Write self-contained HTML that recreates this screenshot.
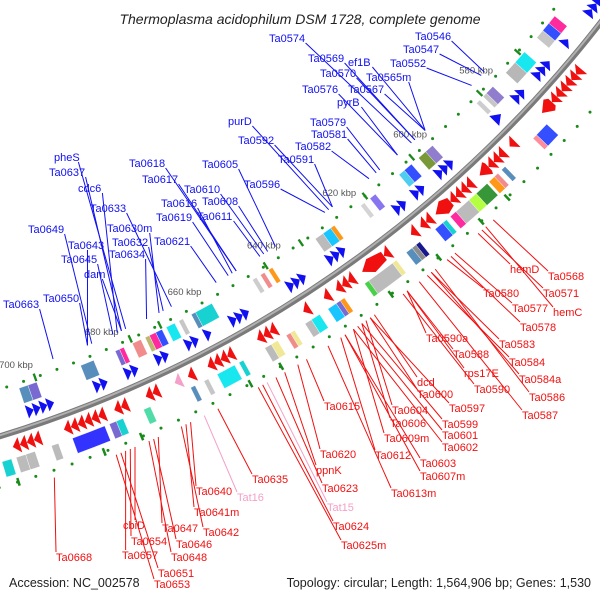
<!DOCTYPE html>
<html><head><meta charset="utf-8"><style>
html,body{margin:0;padding:0;background:#fff;}
svg{display:block;font-family:"Liberation Sans",sans-serif;}
</style></head><body>
<svg id="map" width="600" height="600" viewBox="0 0 600 600" xmlns="http://www.w3.org/2000/svg">
<rect width="600" height="600" fill="#fff"/>
<text x="300" y="24" text-anchor="middle" font-size="14" font-style="italic" fill="#222">Thermoplasma acidophilum DSM 1728, complete genome</text>
<text x="9" y="587" font-size="12.5" fill="#222">Accession: NC_002578</text>
<text x="591" y="587" text-anchor="end" font-size="12.5" fill="#222">Topology: circular; Length: 1,564,906 bp; Genes: 1,530</text>
<g id="tracks"></g>
<g id="labels"></g>
</svg>
<script>
const scaleTicks = [580, 600, 620, 640, 660, 680, 700];
const blueGenes = [[551,552.5],[552.5,554],[554,555.5],[562,563.5],[568,569.5],[569.5,571],[571,572.5],[576,577.5],[577.5,579],[583,585],[597,598.5],[598.5,600],[600,601.5],[605,606.5],[606.5,608],[610,611.5],[611.5,613],[626,627.5],[627.5,629],[629,630.5],[636,637.5],[637.5,639],[639,640.5],[650,651.5],[651.5,653],[653,654.5],[659,660.5],[662,663.5],[663.5,665],[669,670.5],[670.5,672],[676,677.5],[677.5,679],[683,684.5],[684.5,686],[695,696.5],[696.5,698],[698,699.5],[699.5,701]];
const redGenes = [[565,566.5],[566.5,568],[568,569.5],[569.5,571],[571,572.5],[572.5,574],[574,577],[585,586.5],[588,589.5],[589.5,591],[591,592.5],[592.5,595],[597,598.5],[598.5,600],[600,601.5],[601.5,603],[603,607],[608,609.5],[609.5,611],[612,613.5],[619,620.5],[620.5,626],[628,629.5],[629.5,631],[631,632.5],[634,635.5],[639,640.5],[647,648.5],[648.5,650],[650,651.5],[657,658.5],[658.5,660],[660,661.5],[661.5,663],[666,667.5],[674,675.5],[675.5,677],[681,682.5],[682.5,684],[686,687.5],[687.5,689],[689,690.5],[690.5,692],[692,693.5],[693.5,695],[700,701.5],[701.5,703],[703,704.5],[704.5,706]];
const pinkGenes = [[669,670.5]];
const innerBoxes = [[560,562,'#ff1493'],[562,564,'#1e3cff'],[564,566,'#c0c0c0'],[570,573,'#00e5ee'],[573,576,'#b0b0b0'],[580,582,'#8470c8'],[582,583,'#c0c0c0'],[584,585,'#c8c8c8'],[598,600,'#8470c8'],[600,602,'#6b8e23'],[604,606,'#1e3cff'],[606,607.5,'#3cc8f0'],[614,615.5,'#7b68ee'],[617,618,'#d0d0d0'],[625,626,'#ff8c00'],[626,628,'#00bfff'],[628,630,'#b4b4b4'],[641,642,'#ff8c00'],[643,644,'#f08080'],[645,646,'#c8c8c8'],[656,660,'#00cdcd'],[660,661,'#4682b4'],[663,664,'#c0c0c0'],[665,667,'#00e5ee'],[668,669.5,'#1e3cff'],[669.5,671,'#ff1493'],[671,672,'#b8b060'],[673,675,'#f08080'],[677,678,'#ff1493'],[678,679,'#6a5acd'],[684,687,'#4682b4'],[697,699,'#6a5acd'],[699,701,'#4682b4']];
const outerBoxes = [[578,581,'#1e3cff'],[581,582,'#ff8090'],[590,591,'#4682b4'],[592,593,'#f08080'],[593,594.5,'#ff8c00'],[595,598,'#228b22'],[598,600,'#adff2f'],[600,603.5,'#b4b4b4'],[603.5,605,'#ff1493'],[606,607,'#00cdcd'],[607,609,'#1e3cff'],[613,614,'#000080'],[614,615,'#808080'],[615,616.5,'#4682b4'],[619,620,'#f0e68c'],[620,626,'#b4b4b4'],[626,627,'#32cd32'],[632,633,'#ff8c00'],[633,634,'#6a5acd'],[634,636,'#00bfff'],[638,640,'#00e5ee'],[640,641.5,'#b4b4b4'],[644,645,'#f0e68c'],[645,646,'#f08080'],[648,649.5,'#f0e68c'],[649.5,651,'#b4b4b4'],[656,657,'#00cdcd'],[658,662,'#00e5ee'],[664,665,'#c0c0c0'],[667,668,'#4682b4'],[677,678.5,'#3cd9a0'],[683,684.5,'#00cdcd'],[684.5,686,'#6a5acd'],[687,694,'#1e1eff'],[697,698.5,'#b4b4b4'],[702,704,'#b4b4b4'],[704,706,'#b4b4b4'],[707,709,'#00cdcd']];
const dashPositions = [571,594,603,612,633,650,668,681,697,707,583,601,616,624,642,657,675,689];
const blueLabels = ['Ta0546','Ta0547','Ta0552','Ta0569','ef1B','Ta0570','Ta0565m','Ta0576','Ta0567','pyrB','Ta0579','Ta0581','Ta0582','Ta0591','Ta0574','purD','Ta0592','pheS','Ta0637','Ta0618','Ta0605','Ta0617','Ta0596','cdc6','Ta0610','Ta0616','Ta0608','Ta0633','Ta0619','Ta0611','Ta0630m','Ta0649','Ta0621','Ta0632','Ta0643','Ta0634','Ta0645','dam','Ta0650','Ta0663'];
const blueLabelX = [415,403,390,308,348,320,366,302,348,337,310,311,295,278,269,228,238,54,49,129,202,142,244,78,184,161,202,90,156,197,107,28,154,112,68,109,61,84,43,3];
const blueLabelY = [40,53,67,62,66,77,81,93,93,106,126,138,150,163,42,125,144,161,176,167,168,183,188,192,193,207,205,212,221,220,232,233,245,246,249,258,263,278,302,308];
const blueGenePos = [579,580,583,600,597,600,597,605,597,605,610,611,613,623,601,624,623,675,676,648,638,648,625,677,641,649,640,664,650,642,667,683,653,666,684,670,678,676,684,692];
const redLabels = ['Ta0568','hemD','Ta0571','Ta0580','Ta0577','hemC','Ta0578','Ta0590a','Ta0583','Ta0588','Ta0584','rps17E','Ta0584a','dcd','Ta0590','Ta0600','Ta0586','Ta0615','Ta0597','Ta0604','Ta0587','Ta0606','Ta0599','Ta0601','Ta0609m','Ta0602','Ta0612','Ta0603','Ta0607m','Ta0613m','Ta0620','ppnK','Ta0623','Tat15','Ta0624','Ta0625m','Ta0635','Ta0640','Tat16','Ta0641m','Ta0647','Ta0642','cbiD','Ta0654','Ta0646','Ta0657','Ta0648','Ta0668','Ta0651','Ta0653'];
const redLabelX = [548,510,543,483,512,553,520,426,499,453,509,464,519,417,474,417,529,324,449,392,522,390,442,442,384,442,375,420,420,391,320,316,322,327,333,341,252,196,237,194,162,203,123,131,176,122,171,56,158,154];
const redLabelY = [280,273,297,297,312,316,331,342,348,358,366,377,383,386,393,398,401,410,412,414,419,427,428,439,442,451,459,467,480,497,458,474,492,511,530,549,483,495,501,516,532,536,529,545,548,559,561,561,577,588];
const redGenePos = [599,603,602,611,609,601,610,621,615,621,616,621,615,629,622,630,614,645,630,631,618,632,632,633,634,634,637,636,636,640,647,650,652,654,655,656,665,671,668,672,678,673,683,684,679,685,680,700,686,687];

const NS = 'http://www.w3.org/2000/svg';
const CX = -353, CY = -719;
const R_BACK = 1208;
function ang(p){ return (43.6 + (p - 580) * 0.2300) * Math.PI / 180; }
function pt(p, r){ const a = ang(p); return [CX + r * Math.cos(a), CY + r * Math.sin(a)]; }
function mk(tag, attrs, parent){ const e = document.createElementNS(NS, tag); for (const k in attrs) e.setAttribute(k, attrs[k]); parent.appendChild(e); return e; }
const tracks = document.getElementById('tracks');
const labels = document.getElementById('labels');

function sector(s, e, r1, r2){
  const a = pt(s, r2), b = pt(e, r2), c = pt(e, r1), d = pt(s, r1);
  return `M${a[0]},${a[1]} A${r2},${r2} 0 0 1 ${b[0]},${b[1]} L${c[0]},${c[1]} A${r1},${r1} 0 0 0 ${d[0]},${d[1]} Z`;
}

// backbone
const bb = mk('circle', {cx: CX, cy: CY, r: R_BACK, fill: 'none', stroke: '#7a7a7a', 'stroke-width': 6}, tracks);


const bb2 = mk('circle', {cx: CX, cy: CY, r: R_BACK - 1, fill: 'none', stroke: '#b0b0b0', 'stroke-width': 2}, tracks);



// dots
for (let p = 540; p <= 720; p += 3.8) {
  [1163, 1257].forEach(r => {
    const q = pt(p, r);
    const d = mk('circle', {cx: q[0], cy: q[1], r: 1.5, fill: '#1a8a1a'}, tracks);
    
    
  });
}
dashPositions.forEach((p, i) => {
  const r = i % 2 ? 1257 : 1163;
  const d = mk('path', {d: sector(p - 0.25, p + 0.25, r - 4, r + 4), fill: '#1a8a1a'}, tracks);
  
  
});

// boxes
function drawBoxes(arr, r1, r2, nm){
  arr.forEach(b => {
    const el = mk('path', {d: sector(b[0], b[1], r1, r2), fill: b[2], stroke: '#fff', 'stroke-width': 0.4, opacity: 0.9}, tracks);
    
    
  });
}
drawBoxes(innerBoxes, 1168, 1184, 'cog-box-inner');
drawBoxes(outerBoxes, 1233, 1249, 'cog-box-outer');

// arrows
function arrow(s, e, r1, r2, headAtStart, color, nm){
  const h = Math.min(2.2, e - s);
  const rm = (r1 + r2) / 2;
  let pts;
  if (headAtStart) {
    const sh = s + h;
    pts = [pt(s, rm), pt(sh, r2 + 1), pt(e, r2 - 2), pt(e, r1 + 2), pt(sh, r1 - 1)];
  } else {
    const eh = e - h;
    pts = [pt(e, rm), pt(eh, r1 - 1), pt(s, r1 + 2), pt(s, r2 - 2), pt(eh, r2 + 1)];
  }
  const el = mk('polygon', {points: pts.map(q => q.join(',')).join(' '), fill: color}, tracks);
  
  
}
blueGenes.forEach(g => arrow(g[0], g[1], 1187, 1199, true, '#1010f0', 'forward-gene'));
redGenes.forEach(g => arrow(g[0], g[1], 1215, 1229, false, '#f01010', 'reverse-gene'));
pinkGenes.forEach(g => arrow(g[0], g[1], 1215, 1229, false, '#f4a0c8', 'trna-gene'));

// scale labels
scaleTicks.forEach(p => {
  const q = pt(p, 1145);
  const t = mk('text', {x: q[0], y: q[1] + 3, 'text-anchor': 'middle', 'font-size': 9.5, fill: '#555'}, labels);
  t.textContent = p + ' kbp';
  
  
});

function clamp(v, a, b){ return Math.max(a, Math.min(b, v)); }
function drawLabel(name, x, y, p, r, color, nm){
  const w = name.length * 6.1, top = y - 9, bot = y + 1;
  const g = pt(p, r);
  const lx = clamp(g[0], x, x + w), ly = clamp(g[1], top, bot);
  const l = mk('line', {x1: g[0], y1: g[1], x2: lx, y2: ly, stroke: color, 'stroke-width': 1}, labels);
  
  
  const t = mk('text', {x: x, y: y, 'font-size': 11, fill: color}, labels);
  t.textContent = name;
  
  
}
blueLabels.forEach((n, i) => drawLabel(n, blueLabelX[i], blueLabelY[i], blueGenePos[i], 1152, '#1010f0', 'forward-gene-label'));
redLabels.forEach((n, i) => {
  const c = n.startsWith('Tat') ? '#f4a0c8' : '#f01010';
  drawLabel(n, redLabelX[i], redLabelY[i], redGenePos[i], 1264, c, 'reverse-gene-label');
});
</script>
</body></html>
